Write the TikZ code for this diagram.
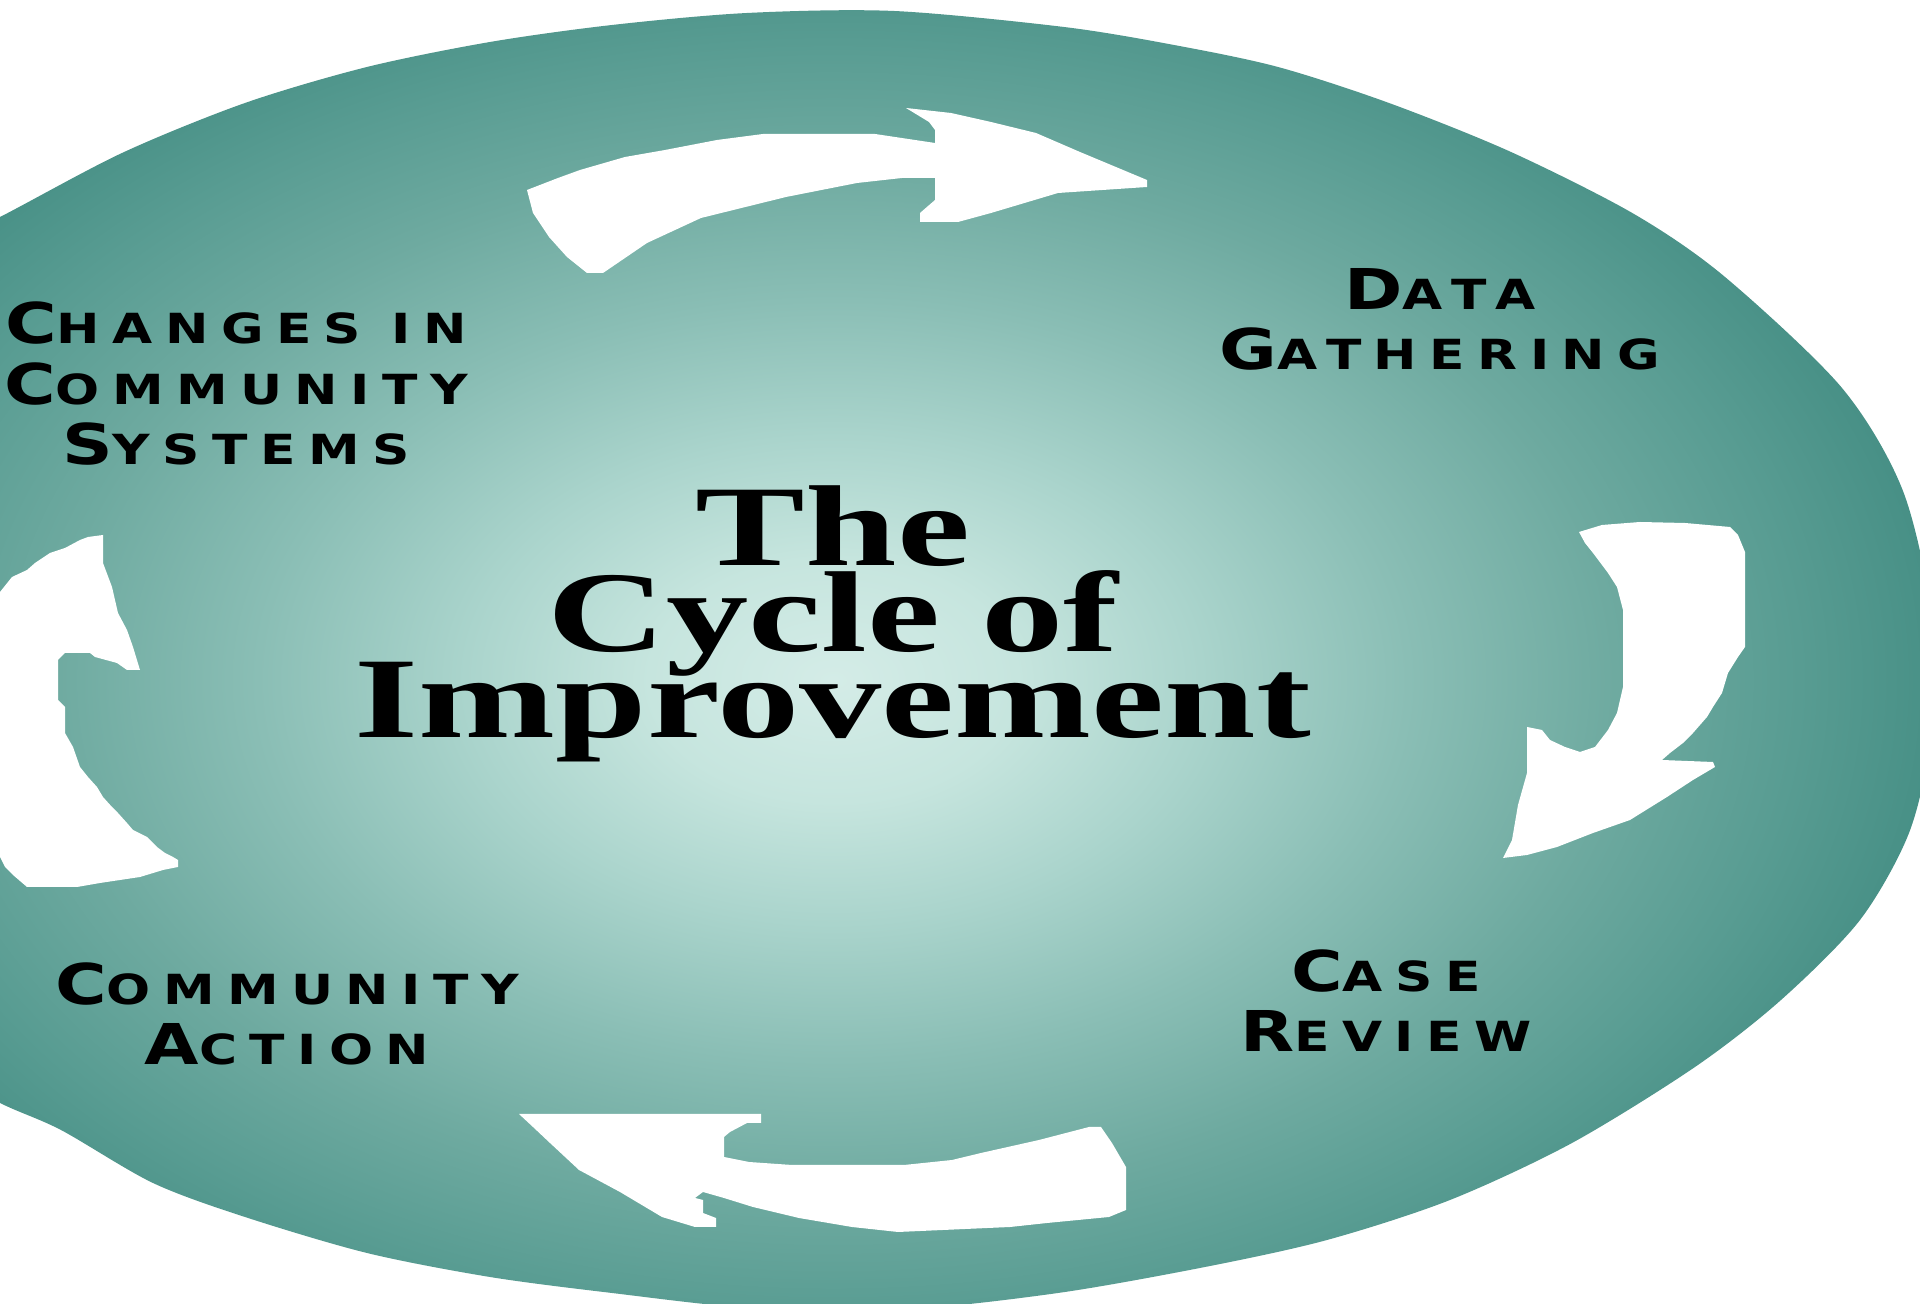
\documentclass[tikz,border=0pt]{standalone}
\usepackage{fontspec}
\setmainfont{Liberation Serif}
\newfontfamily\labelfont[LetterSpace=30,FakeStretch=1.25]{DejaVu Sans}
\newfontfamily\titlefont[FakeStretch=1.43]{Liberation Serif}
\newcommand\capword[2]{{\fontsize{16}{17.3}\selectfont #1}\MakeUppercase{#2}}

\definecolor{coreteal}{RGB}{212,236,231}
\definecolor{paleteal}{RGB}{198,229,222}
\definecolor{softteal}{RGB}{170,212,204}
\definecolor{midteal}{RGB}{138,190,181}
\definecolor{duskteal}{RGB}{110,170,160}
\definecolor{deepteal}{RGB}{88,156,146}
\definecolor{rimteal}{RGB}{66,140,130}
\pgfdeclareradialshading{cyclefade}{\pgfpoint{0bp}{0bp}}{color(0bp)=(coreteal); color(4bp)=(paleteal); color(8bp)=(softteal); color(12.5bp)=(midteal); color(17bp)=(duskteal); color(21bp)=(deepteal); color(25bp)=(rimteal); color(50bp)=(rimteal)}

\tikzset{
  arrowfill/.style={fill=white},
  labeltext/.style={font=\labelfont\bfseries\fontsize{11.8}{17.3}\selectfont, align=center, anchor=base, inner sep=0pt},
  titletext/.style={font=\titlefont\bfseries\fontsize{32.7}{24.5}\selectfont\setlength\lineskiplimit{-50pt}, align=center, anchor=base, inner sep=0pt}
}

\begin{document}
\begin{tikzpicture}[x=0.01cm, y=-0.01cm]
        \useasboundingbox (0,0) rectangle (1920,1304);
        \clip (0,0) rectangle (1920,1304);
        \fill[white] (0,0) rectangle (1920,1304);

        \begin{scope}
          \clip plot[smooth cycle] coordinates {(-220,660) (-200,450) (-140,320) (-70,250) (0,217) (122,153) (245,103) (367,67) (490,42) (612,25) (747,13) (894,11) (1064,27) (1174,45) (1278,67) (1389,103) (1511,152) (1634,214) (1725,277) (1842,388) (1903,491) (1932,620) (1930,740) (1909,833) (1860,920) (1781,1000) (1695,1067) (1572,1143) (1450,1200) (1327,1240) (1205,1267) (1058,1293) (900,1310) (750,1308) (612,1293) (490,1277) (367,1253) (245,1217) (153,1183) (61,1130) (0,1103) (-80,1060) (-150,990) (-200,880)};
          \shade[shading=cyclefade] (833,680) ellipse [x radius=1150, y radius=760];
        \end{scope}

        \fill[arrowfill] (527,190) -- (558,178) -- (580,170) -- (625,157) -- (665,150) -- (717,140) -- (763,134) -- (875,134) -- (935,143) -- (935,130) -- (929,122) -- (906,108) -- (951,113) -- (991,122) -- (1036,133) -- (1080,152) -- (1147,180) -- (1147,187) -- (1058,193) -- (991,213) -- (958,222) -- (920,222) -- (920,213) -- (935,200) -- (935,178) -- (902,178) -- (857,183) -- (786,197) -- (701,218) -- (647,243) -- (603,273) -- (587,273) -- (567,257) -- (549,237) -- (533,213) -- cycle;
        \fill[arrowfill] (1579,532) -- (1602,525) -- (1640,522) -- (1685,523) -- (1730,527) -- (1738,535) -- (1745,552) -- (1745,647) -- (1738,657) -- (1728,673) -- (1722,693) -- (1713,707) -- (1707,717) -- (1693,733) -- (1683,743) -- (1670,753) -- (1662,760) -- (1713,762) -- (1715,767) -- (1693,780) -- (1667,797) -- (1630,820) -- (1593,833) -- (1557,847) -- (1527,855) -- (1503,858) -- (1512,840) -- (1518,805) -- (1527,773) -- (1527,727) -- (1542,730) -- (1550,740) -- (1565,747) -- (1580,752) -- (1595,747) -- (1608,730) -- (1617,713) -- (1623,687) -- (1623,610) -- (1617,587) -- (1608,573) -- (1593,553) -- (1585,543) -- cycle;
        \fill[arrowfill] (519,1114) -- (761,1114) -- (761,1123) -- (747,1123) -- (730,1132) -- (724,1137) -- (724,1157) -- (749,1162) -- (792,1165) -- (904,1165) -- (952,1160) -- (981,1153) -- (1039,1140) -- (1089,1127) -- (1101,1127) -- (1112,1143) -- (1126,1167) -- (1126,1210) -- (1109,1217) -- (1047,1223) -- (1010,1227) -- (898,1232) -- (852,1227) -- (799,1218) -- (753,1207) -- (724,1198) -- (703,1192) -- (695,1198) -- (703,1200) -- (703,1213) -- (716,1218) -- (716,1227) -- (695,1227) -- (662,1217) -- (620,1192) -- (579,1170) -- (550,1143) -- (533,1127) -- cycle;
        \fill[arrowfill] (-20,592) -- (0,592) -- (12,577) -- (27,570) -- (35,563) -- (50,553) -- (65,548) -- (80,540) -- (88,537) -- (103,535) -- (103,563) -- (112,587) -- (118,613) -- (127,630) -- (133,647) -- (140,670) -- (127,670) -- (117,663) -- (95,657) -- (90,653) -- (65,653) -- (58,660) -- (58,700) -- (65,707) -- (65,733) -- (73,747) -- (80,767) -- (88,777) -- (97,787) -- (103,797) -- (112,807) -- (118,813) -- (127,823) -- (133,830) -- (147,837) -- (157,847) -- (165,853) -- (173,857) -- (178,860) -- (178,867) -- (163,870) -- (140,877) -- (100,883) -- (77,887) -- (27,887) -- (13,875) -- (5,867) -- (0,857) -- (-20,857) -- cycle;

        \node[titletext] (title) at (833,738) {The\\Cycle of\\Improvement};
        \node[labeltext] (changes) at (236,465) {\capword{C}{hanges} \capword{}{in}\\\capword{C}{ommunity}\\\capword{S}{ystems}};
        \node[labeltext] (gathering) at (1440,370) {\capword{D}{ata}\\\capword{G}{athering}};
        \node[labeltext] (review) at (1386,1052) {\capword{C}{ase}\\\capword{R}{eview}};
        \node[labeltext] (action) at (287,1065) {\capword{C}{ommunity}\\\capword{A}{ction}};
\end{tikzpicture}
\end{document}
